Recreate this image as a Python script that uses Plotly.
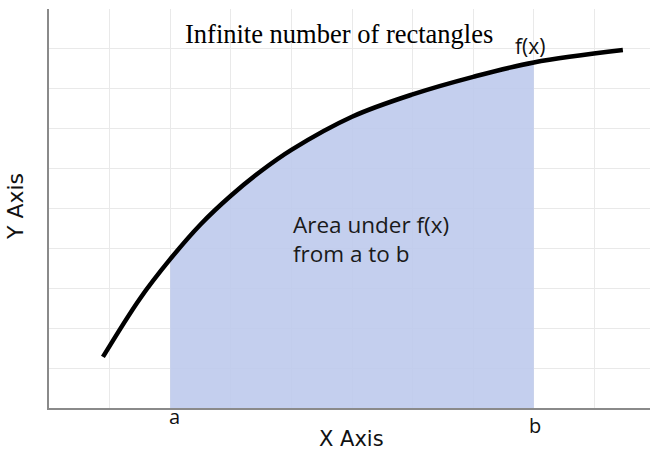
import plotly.graph_objects as go

# Curve f(x) sample points
x_vals = [0.89, 1.5, 2.0, 2.5, 3.0, 3.5, 4.0, 5.0, 6.0, 7.0, 8.0, 9.47]
f_vals = [1.28, 2.74, 3.73, 4.60, 5.32, 5.94, 6.47, 7.30, 7.86, 8.30, 8.66, 8.97]
a_val = 2.0
b_val = 8.0

title_text = "Infinite number of rectangles"
curve_label = "f(x)"
area_text = "Area under f(x)<br>from a to b"
x_title = "X Axis"
y_title = "Y Axis"
a_label = "a"
b_label = "b"

W, H = 650, 452
L, R, T, B = 49, 0, 9, 44
PW, PH = W - L - R, H - T - B
XMAX = PW / 60.6
YMAX = 10.0


def px(xp):
    return (xp - L) / PW


def py(yp):
    return (H - B - yp) / PH


fill_x = [x for x in x_vals if a_val <= x <= b_val]
fill_y = [f for x, f in zip(x_vals, f_vals) if a_val <= x <= b_val]

sans = "Open Sans"
fig = go.Figure()
fig.add_trace(go.Scatter(
    x=fill_x, y=fill_y, mode="lines", line=dict(width=0, shape="spline"),
    fill="tozeroy", fillcolor="rgba(190,202,236,0.9)", hoverinfo="skip",
    showlegend=False))
fig.add_trace(go.Scatter(
    x=x_vals, y=f_vals, mode="lines",
    line=dict(color="#000000", width=4.5, shape="spline"),
    showlegend=False))

fig.update_layout(
    width=W, height=H,
    margin=dict(l=L, r=R, t=T, b=B, pad=0),
    paper_bgcolor="white", plot_bgcolor="white",
    showlegend=False,
    xaxis=dict(range=[0, XMAX], dtick=1, tick0=0, showticklabels=False,
               ticks="", showgrid=True, gridcolor="#e9e9e9", gridwidth=1,
               zeroline=False, showline=True, linecolor="#8a8a8a",
               linewidth=2, fixedrange=True),
    yaxis=dict(range=[0, YMAX], dtick=1, tick0=0, showticklabels=False,
               ticks="", showgrid=True, gridcolor="#e9e9e9", gridwidth=1,
               zeroline=False, showline=True, linecolor="#8a8a8a",
               linewidth=2, fixedrange=True),
)

ann = [
    dict(text=title_text, x=px(338.5), y=py(34),
         font=dict(family="Liberation Serif", size=26.5, color="#000000")),
    dict(text=curve_label, x=px(530), y=py(46),
         font=dict(family=sans, size=21, color="#111111")),
    dict(text=area_text, x=px(291), y=py(239), xanchor="left", align="left",
         font=dict(family=sans, size=22.5, color="#1a1a1a")),
    dict(text=a_label, x=px(174), y=py(416),
         font=dict(family=sans, size=20, color="#111111")),
    dict(text=b_label, x=px(535), y=py(425),
         font=dict(family=sans, size=20, color="#111111")),
    dict(text=x_title, x=px(351), y=py(439),
         font=dict(family="DejaVu Sans", size=21, color="#111111")),
    dict(text=y_title, x=px(15), y=py(207), textangle=-90,
         font=dict(family="DejaVu Sans", size=22, color="#111111")),
]
for a in ann:
    base = dict(xref="paper", yref="paper", showarrow=False,
                xanchor="center", yanchor="middle")
    base.update(a)
    fig.add_annotation(**base)

fig.write_html("out.html", config={"displayModeBar": False},
               post_script="document.body.style.margin='0';document.body.style.overflow='hidden';")
